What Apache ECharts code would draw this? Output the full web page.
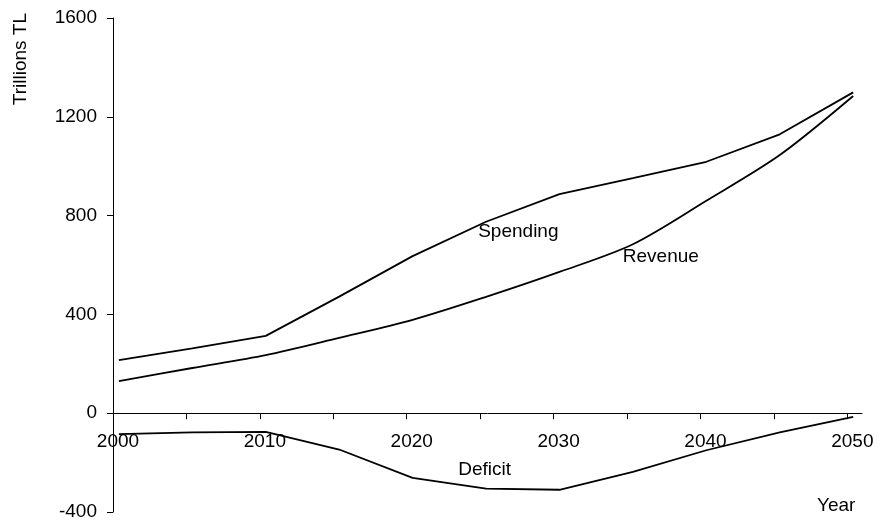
<!DOCTYPE html>
<html>
<head>
<meta charset="utf-8">
<script src="https://cdn.jsdelivr.net/npm/echarts@6/dist/echarts.min.js"></script>
<style>
html,body{margin:0;padding:0;background:#fff;}
#chart{width:879px;height:521px;}
</style>
</head>
<body>
<div id="chart"></div>
<script>
// ---- data ----
const years    = [2000, 2005, 2010, 2015, 2020, 2025, 2030, 2035, 2040, 2045, 2050];
const spending = [215, 262, 313, 472, 636, 775, 887, 952, 1018, 1129, 1299];
const revenue  = [130, 183, 235, 305, 378, 471, 572, 684, 860, 1045, 1284];
const deficit  = [-85, -78, -76, -147, -262, -305, -310, -238, -150, -78, -15];
const yTicks   = [-400, 0, 400, 800, 1200, 1600];
const xLabels  = [2000, 2010, 2020, 2030, 2040, 2050];

const shift = 0.4; // lines are drawn at mid-year in the original
const FONT = '"Liberation Sans", Arial, sans-serif';
const pts = arr => years.map((y, i) => [y + shift, arr[i]]);

const GRID_TOP = 18, GRID_BOTTOM = 9, H = 521;
const plotH = H - GRID_TOP - GRID_BOTTOM;
const yMin = yTicks[0], yMax = yTicks[yTicks.length - 1];
// distance from the bottom of the plot to the zero line
const zeroOffset = plotH * (0 - yMin) / (yMax - yMin);

function tag(text, coord) {
  return {
    data: [{ coord: coord, value: text }],
    symbol: 'circle', symbolSize: 0,
    label: { show: true, position: 'inside', formatter: text, color: '#000', fontSize: 19, fontFamily: FONT },
    silent: true
  };
}

const lineStyle = { color: '#000', width: 1.8 };
const chart = echarts.init(document.getElementById('chart'), null, { renderer: 'canvas' });
chart.setOption({
  animation: false,
  backgroundColor: '#fff',
  grid: { left: 113, right: 17, top: GRID_TOP, bottom: GRID_BOTTOM, containLabel: false, outerBoundsMode: 'none' },
  xAxis: {
    type: 'value', min: 2000, max: 2051, interval: 5,
    position: 'bottom', offset: -zeroOffset,
    axisLine: { onZero: false, lineStyle: { color: '#000', width: 1 } },
    axisTick: { show: true, length: 6, lineStyle: { color: '#000' } },
    splitLine: { show: false },
    axisLabel: {
      color: '#000', fontSize: 19, fontFamily: FONT, margin: 19, padding: [0, 0, 0, 10],
      showMaxLabel: false, hideOverlap: false,
      formatter: v => (xLabels.indexOf(v) >= 0 ? String(v) : '')
    }
  },
  yAxis: {
    type: 'value', min: yMin, max: yMax, interval: 400,
    axisLine: { show: true, lineStyle: { color: '#000', width: 1 } },
    axisTick: { show: true, length: 6, lineStyle: { color: '#000' } },
    splitLine: { show: false },
    axisLabel: { color: '#000', fontSize: 19, fontFamily: FONT, margin: 16, formatter: v => String(v) }
  },
  graphic: [
    { type: 'text', left: 11, top: 13, rotation: Math.PI / 2,
      style: { text: 'Trillions TL', fill: '#000', font: '19px ' + FONT } },
    { type: 'text', left: 817, top: 496,
      style: { text: 'Year', fill: '#000', font: '19px ' + FONT } }
  ],
  series: [
    { name: 'Spending', type: 'line', data: pts(spending), symbol: 'none', lineStyle: lineStyle,
      markPoint: tag('Spending', [2027.6, 733]) },
    { name: 'Revenue', type: 'line', data: pts(revenue), symbol: 'none', lineStyle: lineStyle,
      smooth: 0.3,
      markPoint: tag('Revenue', [2037.3, 632]) },
    { name: 'Deficit', type: 'line', data: pts(deficit), symbol: 'none', lineStyle: lineStyle,
      markPoint: tag('Deficit', [2025.3, -227]) }
  ]
});
</script>
</body>
</html>
